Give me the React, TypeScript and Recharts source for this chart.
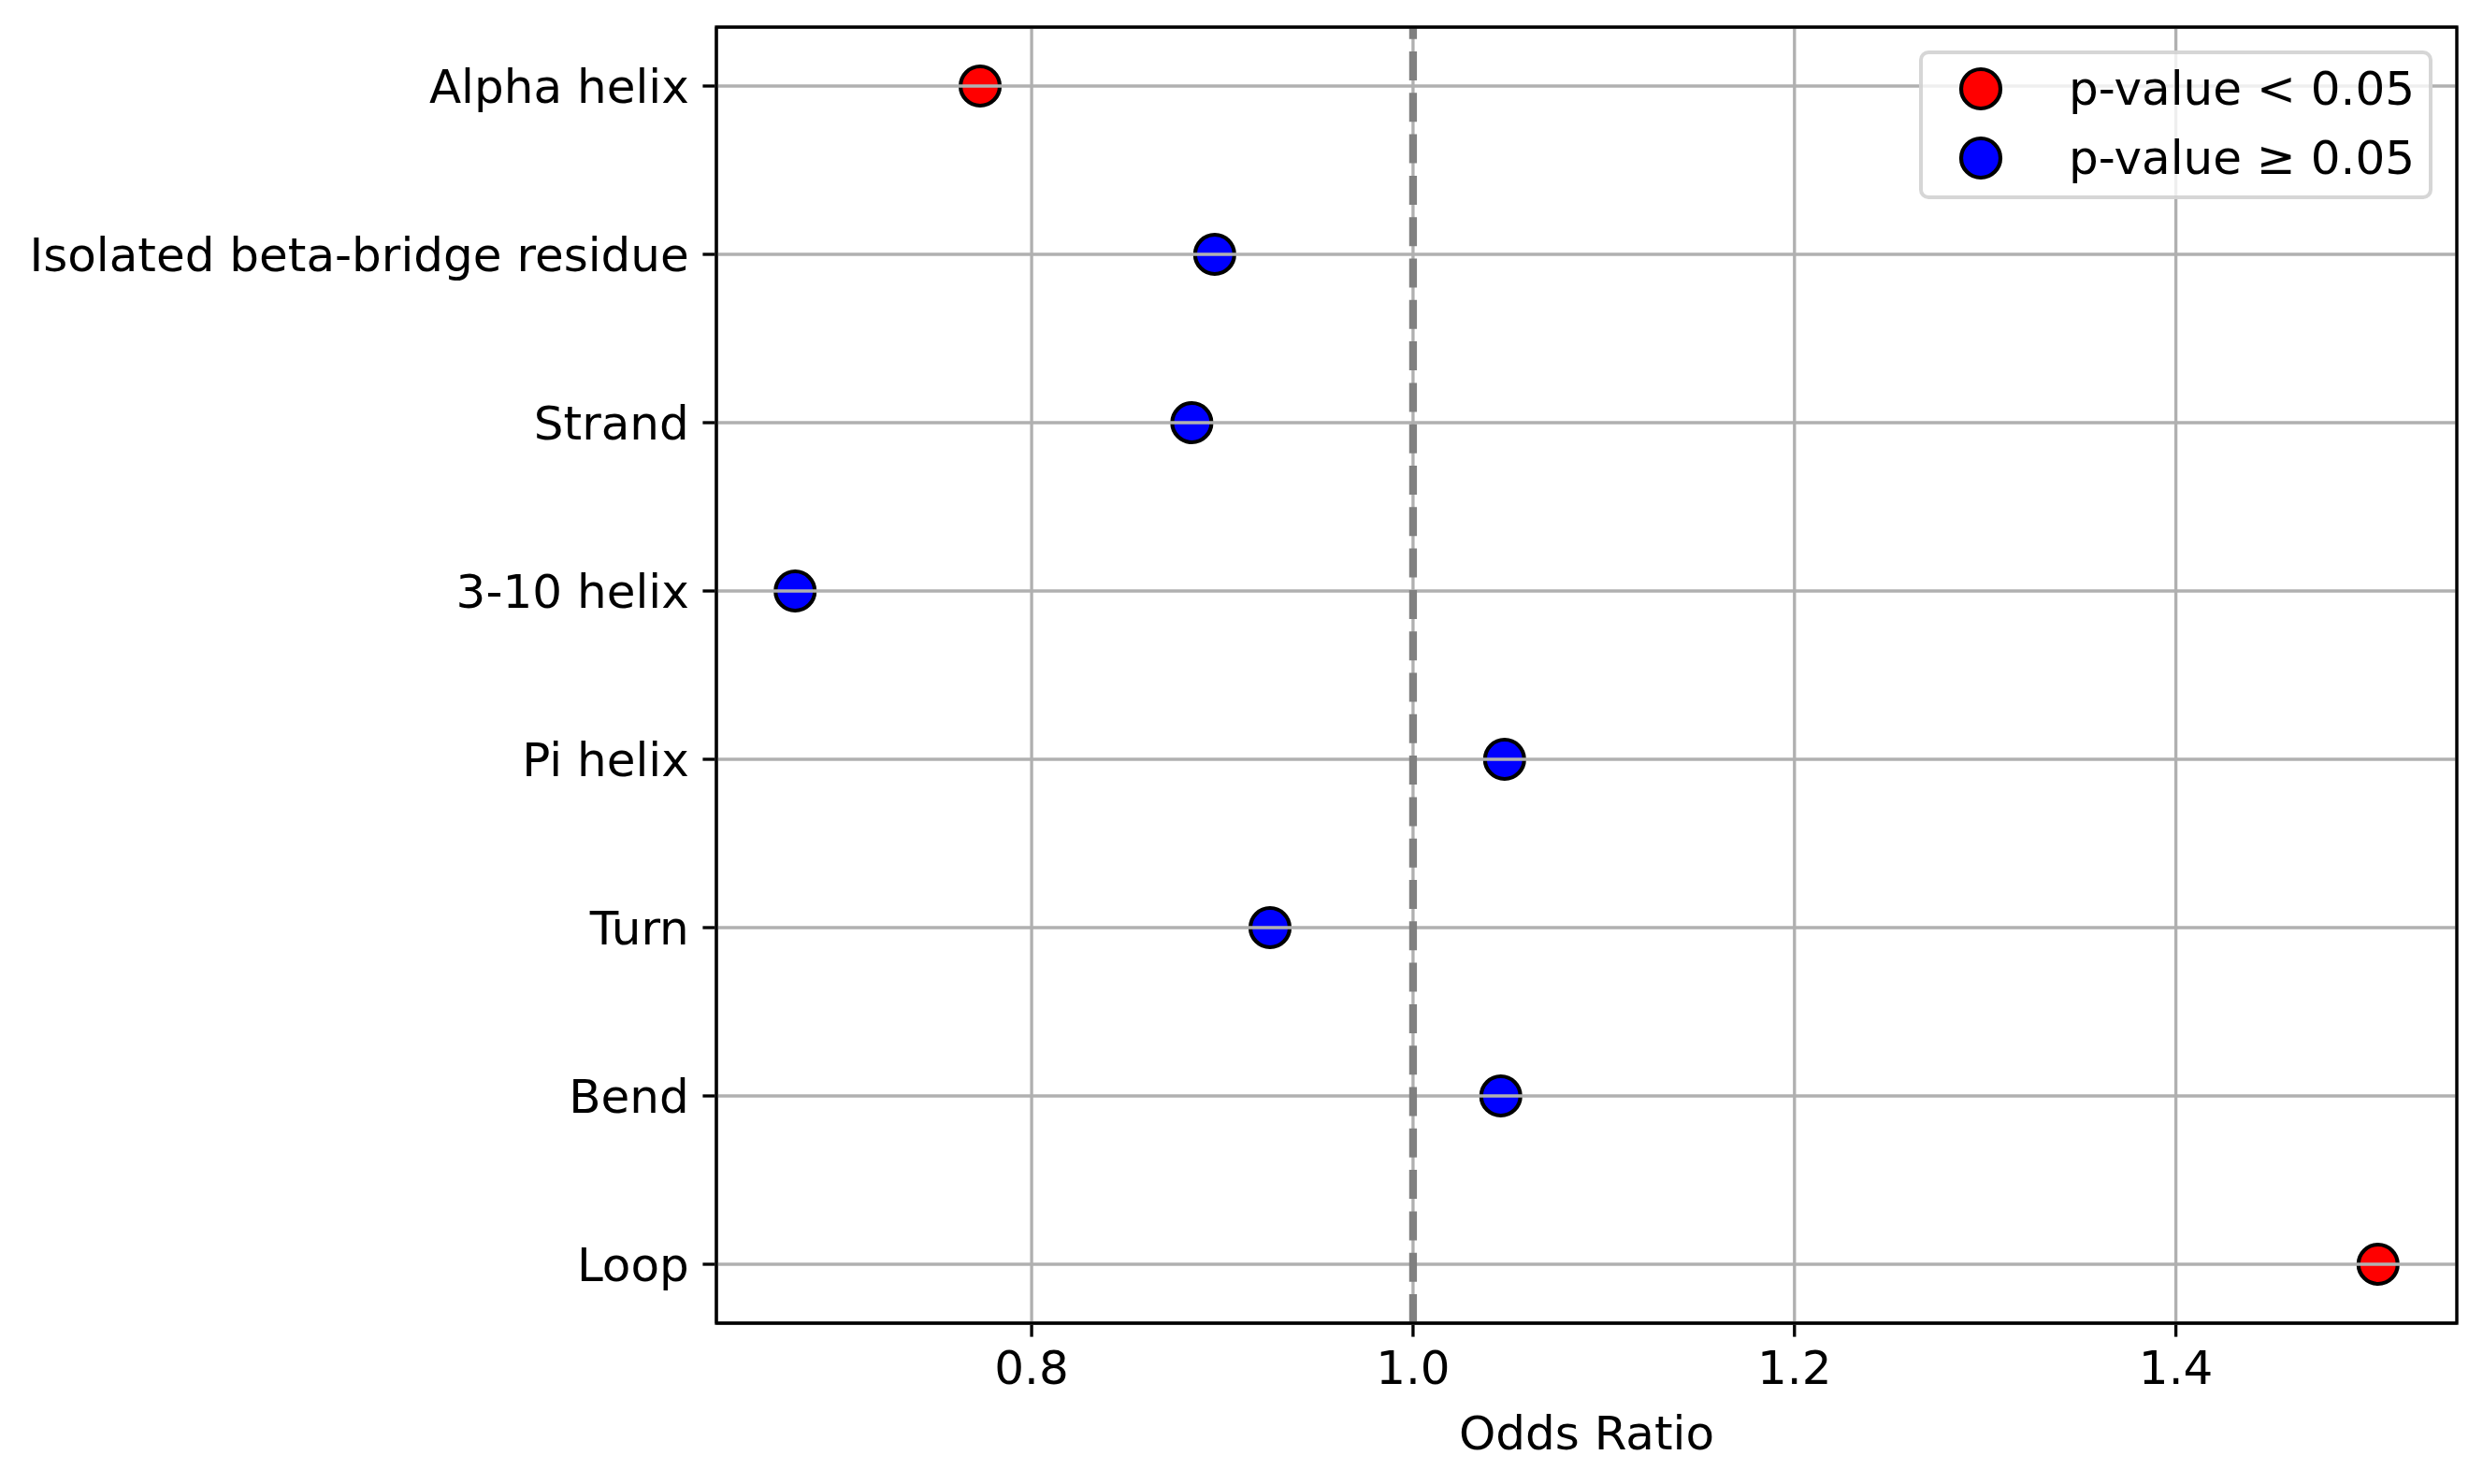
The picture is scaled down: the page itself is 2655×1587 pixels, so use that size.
import React from "react";
import {
  ScatterChart,
  Scatter,
  XAxis,
  YAxis,
  CartesianGrid,
  ReferenceLine,
  ReferenceArea,
  Legend,
} from "recharts";

const categories = [
  "Alpha helix",
  "Isolated beta-bridge residue",
  "Strand",
  "3-10 helix",
  "Pi helix",
  "Turn",
  "Bend",
  "Loop",
];
const oddsRatios = [0.773, 0.896, 0.884, 0.676, 1.048, 0.925, 1.046, 1.506];
const significant = [true, false, false, false, false, false, false, true];
const xTicks = [0.8, 1.0, 1.2, 1.4];
const seriesNames = ["p-value < 0.05", "p-value \u2265 0.05"];
const seriesColors = ["#ff0000", "#0000ff"];

const sigData = categories
  .map((c, i) => ({ name: c, x: oddsRatios[i], y: i, sig: significant[i] }))
  .filter((d) => d.sig);
const nonSigData = categories
  .map((c, i) => ({ name: c, x: oddsRatios[i], y: i, sig: significant[i] }))
  .filter((d) => !d.sig);
const yTicks = categories.map((_, i) => i);

const FONT = "'DejaVu Sans', sans-serif";
const FS = 50;
const LW = 3.33;
const R = 21;

const xDomain = [0.6347, 1.5473];
const yDomain = [-0.35, 7.35];

const Dot = (fill: string) => (props: any) => (
  <circle cx={props.cx} cy={props.cy} r={R} fill={fill} stroke="#000" strokeWidth={4.2} />
);

const LegendBox = (props: any) => {
  const payload = props.payload || [];
  return (
    <div
      style={{
        position: "relative",
        boxSizing: "border-box",
        width: 549,
        height: 159,
        border: "4px solid rgba(204,204,204,0.8)",
        borderRadius: 10,
        background: "rgba(255,255,255,0.8)",
        fontFamily: FONT,
        fontSize: FS,
        color: "#000",
      }}
    >
      {payload.map((p: any, i: number) => (
        <div key={i}>
          <svg
            width={50}
            height={50}
            style={{ position: "absolute", left: 66 - 4 - 25, top: 41 + i * 74 - 4 - 25 }}
          >
            <circle cx={25} cy={25} r={R} fill={p.color} stroke="#000" strokeWidth={4.2} />
          </svg>
          <div
            style={{
              position: "absolute",
              left: 160 - 4,
              top: 41 + i * 74 - 4 - 30,
              height: 60,
              lineHeight: "60px",
              whiteSpace: "nowrap",
            }}
          >
            {p.value}
          </div>
        </div>
      ))}
    </div>
  );
};

export default function App() {
  return (
    <div style={{ position: "absolute", left: 0, top: 0, background: "#fff" }}>
      <ScatterChart
        width={2655}
        height={1587}
        margin={{ top: 29, right: 28, left: 0, bottom: 0 }}
      >
        <XAxis
          type="number"
          dataKey="x"
          domain={xDomain}
          ticks={xTicks}
          allowDataOverflow
          tickFormatter={(v: number) => v.toFixed(1)}
          height={172}
          tickSize={14.6}
          tickMargin={15}
          axisLine={{ stroke: "#000", strokeWidth: LW }}
          tickLine={{ stroke: "#000", strokeWidth: LW }}
          tick={{ fill: "#000", fontSize: FS, fontFamily: FONT }}
          label={{
            value: "Odds Ratio",
            position: "insideBottom",
            offset: 37,
            fill: "#000",
            fontSize: FS,
            fontFamily: FONT,
          }}
        />
        <YAxis
          type="number"
          dataKey="y"
          domain={yDomain}
          ticks={yTicks}
          reversed
          allowDataOverflow
          interval={0}
          width={766}
          tickFormatter={(v: number) => categories[v] ?? ""}
          tickSize={14.6}
          tickMargin={14.6}
          axisLine={{ stroke: "#000", strokeWidth: LW }}
          tickLine={{ stroke: "#000", strokeWidth: LW }}
          tick={{ fill: "#000", fontSize: FS, fontFamily: FONT }}
        />
        <Scatter
          name={seriesNames[0]}
          data={sigData}
          fill={seriesColors[0]}
          shape={Dot(seriesColors[0])}
          isAnimationActive={false}
        />
        <Scatter
          name={seriesNames[1]}
          data={nonSigData}
          fill={seriesColors[1]}
          shape={Dot(seriesColors[1])}
          isAnimationActive={false}
        />
        <CartesianGrid stroke="#b0b0b0" strokeWidth={LW} zIndex={700} />
        <ReferenceLine
          x={1}
          stroke="#808080"
          strokeWidth={8.3}
          strokeDasharray="31 13.3"
          zIndex={800}
        />
        <ReferenceArea
          x1={xDomain[0]}
          x2={xDomain[1]}
          y1={yDomain[0]}
          y2={yDomain[1]}
          fill="none"
          fillOpacity={0}
          stroke="#000"
          strokeWidth={LW}
          ifOverflow="visible"
          zIndex={900}
        />
        <Legend
          layout="horizontal"
          verticalAlign="middle"
          content={<LegendBox />}
          wrapperStyle={{ left: 2052, top: 54, width: 549, height: 159 }}
        />
      </ScatterChart>
    </div>
  );
}
